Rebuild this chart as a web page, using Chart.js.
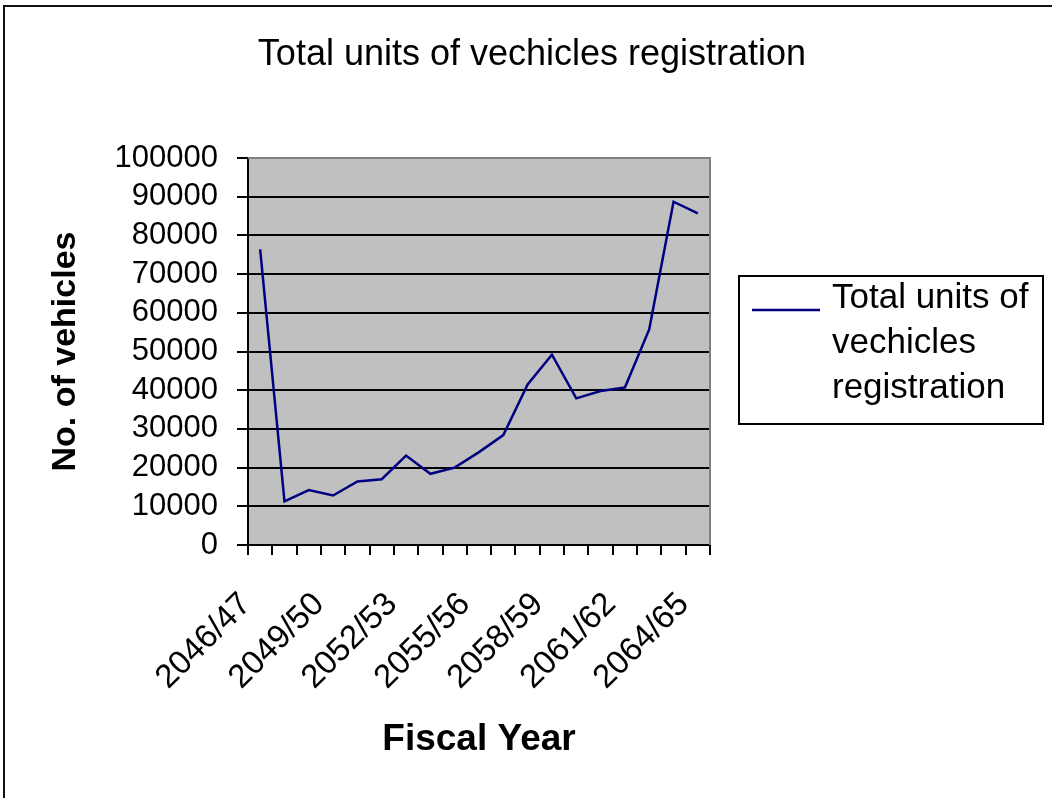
<!DOCTYPE html>
<html lang="en">
<head>
  <meta charset="UTF-8">
  <title>Total units of vechicles registration</title>
  <script src="https://cdn.jsdelivr.net/npm/chart.js"></script>
  <style>
    html, body { margin: 0; padding: 0; background: #fff; overflow: hidden; }
    .frame {
      position: absolute; left: 3px; top: 5px;
      width: 1100px; height: 900px;
      border: 2px solid #111; box-sizing: border-box;
      pointer-events: none;
    }
    #wrap { position: absolute; left: 0; top: 0; width: 1052px; height: 798px; }
  </style>
</head>
<body>
  <div id="wrap"><canvas id="regChart"></canvas></div>
  <div class="frame"></div>

  <script>
    // data
    const fiscalYears = [
      "2046/47", "2047/48", "2048/49", "2049/50", "2050/51", "2051/52", "2052/53",
      "2053/54", "2054/55", "2055/56", "2056/57", "2057/58", "2058/59", "2059/60",
      "2060/61", "2061/62", "2062/63", "2063/64", "2064/65"
    ];
    const registrations = [
      76400, 11300, 14200, 12800, 16400, 17000, 23100,
      18400, 20000, 24000, 28400, 41500, 49200, 37900,
      39800, 40700, 55700, 88700, 85700
    ];
    const yTicks = { min: 0, max: 100000, step: 10000 };
    const seriesName = "Total units of vechicles registration";

    const font = "'Liberation Sans', Arial, sans-serif";
    const navy = "#000080";

    // grey plot background + grey top/right border, like the Excel chart
    const plotBox = {
      id: "plotBox",
      beforeDraw(chart) {
        const a = chart.chartArea, ctx = chart.ctx;
        ctx.save();
        ctx.fillStyle = "#c0c0c0";
        ctx.fillRect(a.left, a.top, a.right - a.left, a.bottom - a.top);
        ctx.restore();
      },
      beforeDatasetsDraw(chart) {
        const a = chart.chartArea, ctx = chart.ctx;
        ctx.save();
        ctx.strokeStyle = "#808080";
        ctx.lineWidth = 2;
        ctx.beginPath();
        ctx.moveTo(a.left, a.top);
        ctx.lineTo(a.right, a.top);
        ctx.lineTo(a.right, a.bottom);
        ctx.stroke();
        ctx.restore();
      }
    };

    // title + boxed legend on the right
    const sideBits = {
      id: "sideBits",
      afterDraw(chart) {
        const ctx = chart.ctx;
        ctx.save();
        ctx.fillStyle = "#000";
        ctx.textBaseline = "alphabetic";

        ctx.font = "36px " + font;
        ctx.textAlign = "center";
        ctx.fillText(chart.options.plugins.sideBits.title, 532, 65);

        // legend box
        const ds = chart.data.datasets[0];
        ctx.font = "35px " + font;
        ctx.textAlign = "left";
        const words = ds.label.split(" ");
        const lines = [];
        let cur = "";
        words.forEach(w => {
          const t = cur ? cur + " " + w : w;
          if (cur && ctx.measureText(t).width > 215) { lines.push(cur); cur = w; }
          else cur = t;
        });
        if (cur) lines.push(cur);

        ctx.strokeStyle = "#000";
        ctx.lineWidth = 2;
        ctx.strokeRect(739, 276, 304, 148);

        ctx.strokeStyle = ds.borderColor;
        ctx.lineWidth = ds.borderWidth;
        ctx.beginPath();
        ctx.moveTo(752, 310);
        ctx.lineTo(820, 310);
        ctx.stroke();

        lines.forEach((ln, i) => ctx.fillText(ln, 832, 308 + i * 45));
        ctx.restore();
      }
    };

    new Chart("regChart", {
      type: "line",
      data: {
        labels: fiscalYears,
        datasets: [{
          label: seriesName,
          data: registrations,
          borderColor: navy,
          borderWidth: 2.5,
          pointRadius: 0,
          tension: 0,
          fill: false
        }]
      },
      options: {
        responsive: true,
        maintainAspectRatio: false,
        animation: false,
        layout: { padding: { top: 158, right: 342, left: 0, bottom: 0 } },
        plugins: {
          legend: { display: false },
          title: { display: false },
          tooltip: { enabled: false },
          sideBits: { title: seriesName }
        },
        scales: {
          x: {
            offset: true,
            afterFit(s) { s.height = 253; },
            grid: {
              offset: true,
              drawOnChartArea: false,
              color: "#000",
              lineWidth: 2,
              tickLength: 10
            },
            border: { display: true, color: "#000", width: 2 },
            ticks: {
              autoSkip: false,
              minRotation: 45,
              maxRotation: 45,
              padding: 30,
              labelOffset: -14,
              color: "#000",
              font: { family: font, size: 33 },
              callback(v, i) { return i % 3 === 0 ? this.getLabelForValue(v) : ""; }
            },
            title: {
              display: true,
              text: "Fiscal Year",
              color: "#000",
              font: { family: font, size: 37, weight: "bold" },
              padding: { top: 0, bottom: 36 }
            }
          },
          y: {
            min: yTicks.min,
            max: yTicks.max,
            afterFit(s) { s.width = 248; },
            grid: { color: "#000", lineWidth: 2, tickLength: 11 },
            border: { display: true, color: "#000", width: 2 },
            ticks: {
              stepSize: yTicks.step,
              autoSkip: false,
              padding: 19,
              color: "#000",
              font: { family: font, size: 31 },
              callback: v => String(v)
            },
            title: {
              display: true,
              text: "No. of vehicles",
              color: "#000",
              font: { family: font, size: 34, weight: "bold" },
              padding: { top: 45, bottom: 0 }
            }
          }
        }
      },
      plugins: [plotBox, sideBits]
    });
  </script>
</body>
</html>
